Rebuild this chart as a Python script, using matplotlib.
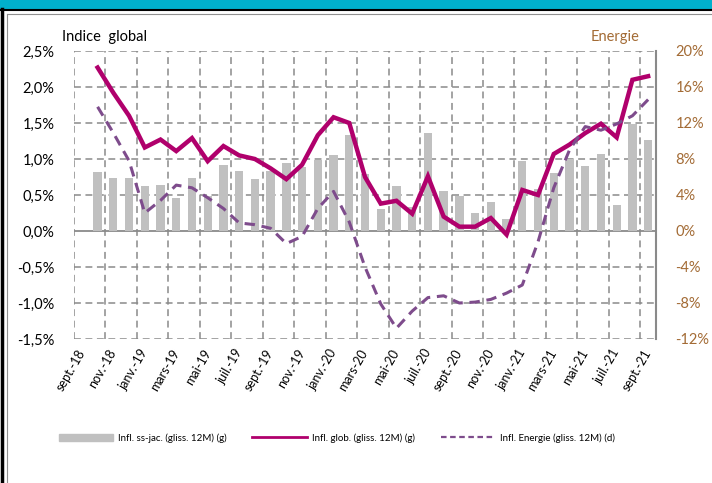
import numpy as np
import matplotlib
matplotlib.use("Agg")
import matplotlib.pyplot as plt
from matplotlib.patches import Rectangle
from matplotlib.lines import Line2D

plt.rcParams['font.family'] = ['Lato', 'DejaVu Sans']

months = ['sept.-18', 'oct.-18', 'nov.-18', 'déc.-18', 'janv.-19', 'févr.-19', 'mars-19',
          'avr.-19', 'mai-19', 'juin-19', 'juil.-19', 'août-19', 'sept.-19', 'oct.-19',
          'nov.-19', 'déc.-19', 'janv.-20', 'févr.-20', 'mars-20', 'avr.-20', 'mai-20',
          'juin-20', 'juil.-20', 'août-20', 'sept.-20', 'oct.-20', 'nov.-20', 'déc.-20',
          'janv.-21', 'févr.-21', 'mars-21', 'avr.-21', 'mai-21', 'juin-21', 'juil.-21',
          'août-21', 'sept.-21']

nan = np.nan
core = [nan, 0.82, 0.74, 0.74, 0.62, 0.64, 0.46, 0.74, 0.49, 0.91, 0.84, 0.72, 0.83,
        0.94, 0.89, 0.99, 1.06, 1.34, 0.79, 0.31, 0.62, 0.33, 1.36, 0.55, 0.49, 0.25,
        0.40, 0.16, 0.97, 0.59, 0.80, 1.00, 0.90, 1.07, 0.36, 1.49, 1.27]
headline = [nan, 2.27, 1.92, 1.60, 1.16, 1.27, 1.11, 1.29, 0.97, 1.18, 1.05, 1.00, 0.87,
            0.72, 0.92, 1.33, 1.58, 1.50, 0.75, 0.38, 0.42, 0.24, 0.76, 0.20, 0.06, 0.06,
            0.18, -0.05, 0.57, 0.50, 1.07, 1.20, 1.36, 1.49, 1.30, 2.10, 2.15]
energy = [nan, 13.8, 10.9, 7.8, 2.0, 3.4, 5.1, 4.8, 3.7, 2.5, 0.9, 0.7, 0.3,
          -1.4, -0.6, 2.5, 4.4, 1.0, -4.0, -8.1, -10.8, -8.9, -7.4, -7.2, -8.0, -7.9,
          -7.6, -6.9, -6.0, -1.2, 4.8, 9.0, 11.6, 11.2, 11.9, 12.8, 14.6]

left_ticks = [-1.5, -1.0, -0.5, 0.0, 0.5, 1.0, 1.5, 2.0, 2.5]
left_labels = ['-1,5%', '-1,0%', '-0,5%', '0,0%', '0,5%', '1,0%', '1,5%', '2,0%', '2,5%']
right_ticks = [-12, -8, -4, 0, 4, 8, 12, 16, 20]
right_labels = ['-12%', '-8%', '-4%', '0%', '4%', '8%', '12%', '16%', '20%']

W, H = 712, 483
fig = plt.figure(figsize=(W / 100, H / 100), dpi=100)

x = np.arange(len(months))
ax = fig.add_axes([74 / W, 1 - 339 / H, (656 - 74) / W, (339 - 51) / H])
ax.set_xlim(-0.5, len(months) - 0.5)
ax.set_ylim(-1.5, 2.5)

gridc = '#8a8a8a'
dash = (0, (4.5, 3))
for yv in left_ticks:
    if yv == 0:
        continue
    ax.axhline(yv, color=gridc, lw=1.1, ls=dash, zorder=1)
for xv in np.arange(-0.5, len(months) - 1, 2):
    ax.axvline(xv, color=gridc, lw=1.1, ls=dash, zorder=1)
ax.axhline(0, color='#8a8a8a', lw=1.3, zorder=1.5)

gray = '#c0c0c0'
magenta = '#b0006c'
purple = '#7e4c8c'
brown = '#a36b35'

ax.bar(x, core, width=0.53, color=gray, zorder=2)
ax.plot(x, headline, color=magenta, lw=3.2, zorder=4, solid_joinstyle='miter')

for s in ax.spines.values():
    s.set_visible(False)
ax.set_yticks(left_ticks)
ax.set_yticklabels(left_labels, fontsize=10.5)
ax.tick_params(axis='y', length=0, pad=14)
ax.set_xticks(x[::2])
ax.set_xticklabels(months[::2], rotation=60, ha='right', va='center',
                   rotation_mode='anchor', fontsize=9)
ax.tick_params(axis='x', length=0, pad=8)

ax2 = ax.twinx()
ax2.set_ylim(-12, 20)
ax2.plot(x, energy, color=purple, lw=2.2, ls=(0, (3.4, 2.2)), zorder=5)
for s in ['top', 'bottom', 'left']:
    ax2.spines[s].set_visible(False)
ax2.spines['right'].set_color('#8a8a8a')
ax2.spines['right'].set_linewidth(1.5)
ax2.set_yticks(right_ticks)
ax2.set_yticklabels(right_labels, fontsize=10.5, color=brown)
ax2.tick_params(axis='y', length=0, pad=14)

fig.text(62 / W, 1 - 37 / H, 'Indice  global', fontsize=10.5, va='center', ha='left')
fig.text(640 / W, 1 - 37 / H, 'Energie', fontsize=10.5, va='center', ha='right', color=brown)

# frame decorations
fig.patches.append(Rectangle((0, 1 - 9 / H), 1, 9 / H, transform=fig.transFigure,
                             color='#00b0cc', zorder=0))
fig.add_artist(Line2D([0, 1], [1 - 10 / H, 1 - 10 / H], transform=fig.transFigure,
                      color='black', lw=1.5))
fig.add_artist(Line2D([1.5 / W, 1.5 / W], [0, 1 - 9 / H], transform=fig.transFigure,
                      color='black', lw=2.5))
fig.add_artist(Line2D([7 / W, 7 / W], [0, 1 - 14 / H], transform=fig.transFigure,
                      color='#909090', lw=0.8))
fig.add_artist(Line2D([7 / W, 1], [1 - 14 / H, 1 - 14 / H], transform=fig.transFigure,
                      color='#909090', lw=0.8))

handles = [Rectangle((0, 0), 1, 1, color=gray),
           Line2D([], [], color=magenta, lw=2),
           Line2D([], [], color=purple, lw=1.6, ls=(0, (2.5, 1.6)))]
labels = ['Infl. ss-jac. (gliss. 12M) (g)', 'Infl. glob. (gliss. 12M) (g)',
          'Infl. Energie (gliss. 12M) (d)']
fig.legend(handles, labels, loc='center', bbox_to_anchor=(337 / W, 1 - 438 / H),
           ncol=3, frameon=False, fontsize=7, handlelength=5.6, handleheight=0.85,
           columnspacing=2.6, handletextpad=0.55)

fig.savefig('out.png', dpi=100)
